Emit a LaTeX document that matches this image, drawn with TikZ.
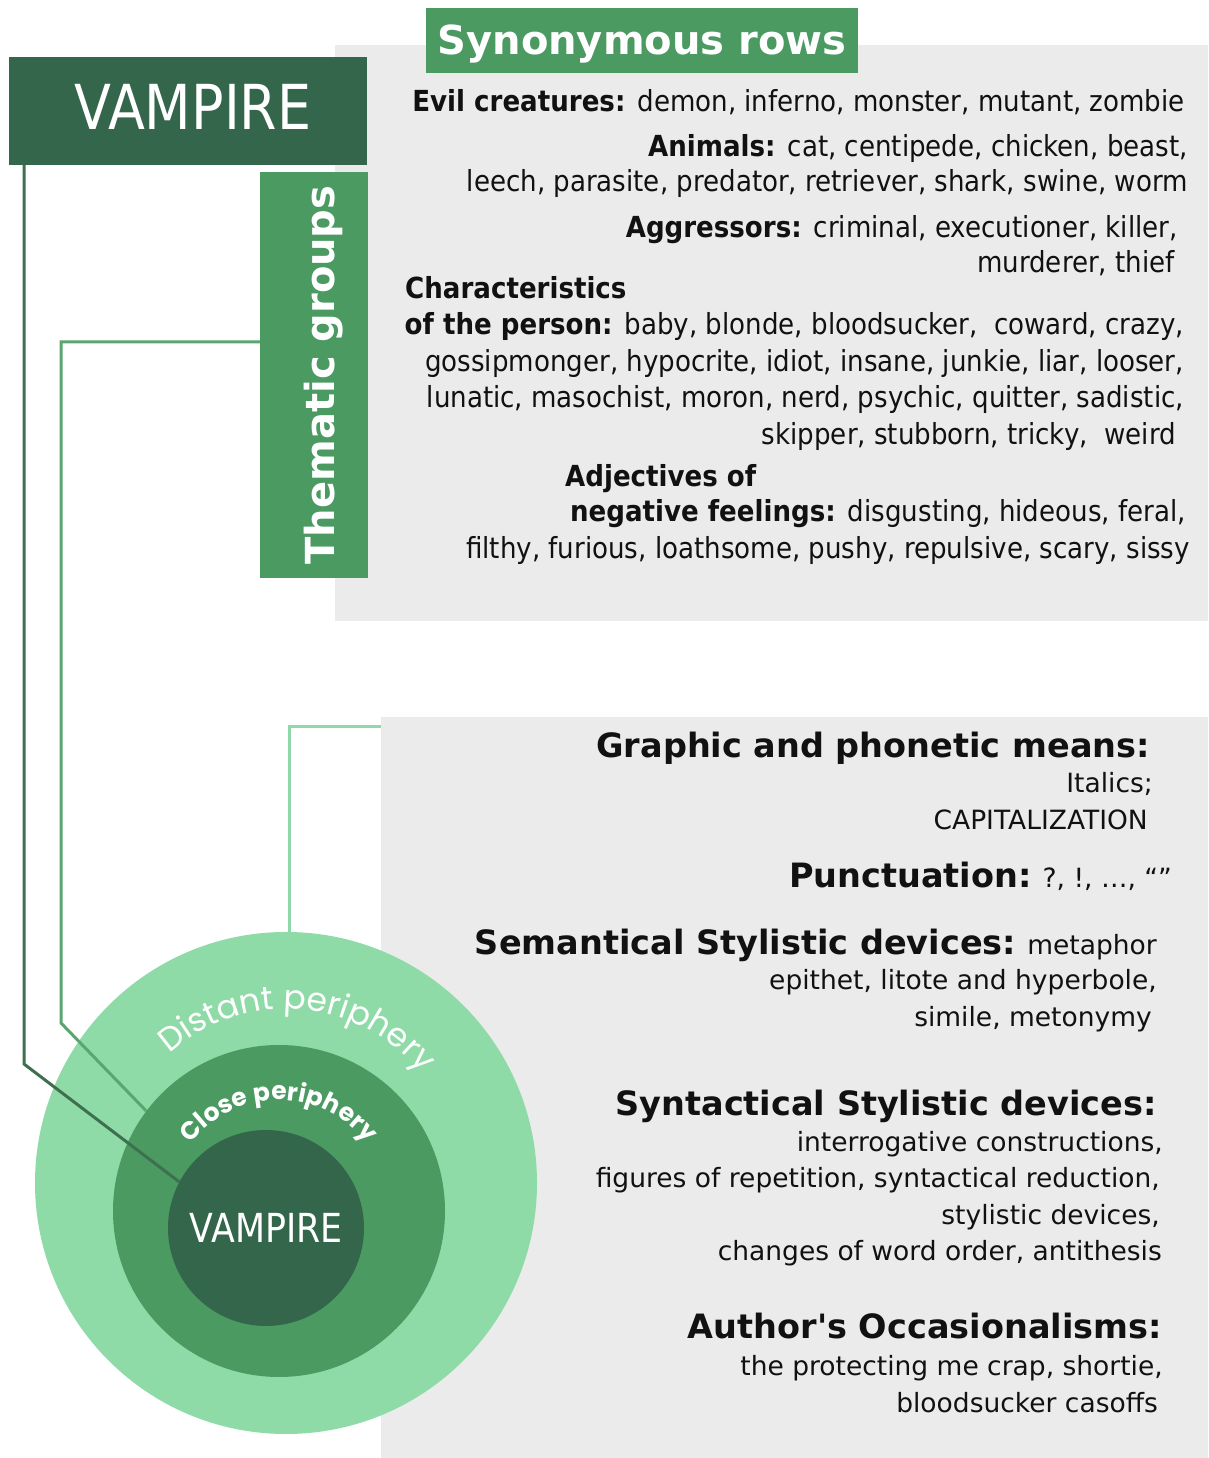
\documentclass[tikz,border=0pt]{standalone}
\usepackage{fontspec}
\setmainfont{DejaVu Sans}[Ligatures=TeXOff]
\newfontfamily\condfont{DejaVu Sans}[FakeStretch=0.9]
\newfontfamily\vampfont{DejaVu Sans}[FakeStretch=0.87]
\newfontfamily\geofont{Poppins}
\usetikzlibrary{decorations.text}
\definecolor{dkgreen}{HTML}{33664A}
\definecolor{mdgreen}{HTML}{4A9A62}
\definecolor{ltgreen}{HTML}{8FDBA8}
\definecolor{panel}{HTML}{EBEBEB}
\definecolor{lineA}{HTML}{3E7050}
\definecolor{lineB}{HTML}{5BA670}
\definecolor{lineC}{HTML}{8FD9A8}
\definecolor{ink}{HTML}{111111}
\newcommand\hd[1]{{\fontsize{33.5}{33.5}\selectfont\bfseries #1}}
\tikzset{
  box/.style={rectangle, draw=none, inner sep=0pt, anchor=south west},
  toptxt/.style={anchor=base east, inner sep=0pt, text=ink, font=\condfont\fontsize{29}{29}\selectfont},
  toptxtl/.style={toptxt, anchor=base west},
  lowtxt/.style={anchor=base east, inner sep=0pt, text=ink, font=\fontsize{26.5}{26.5}\selectfont},
  ring/.style={circle, draw=none, inner sep=0pt},
  conn/.style={line width=3pt, line join=miter}
}
\begin{document}
\begin{tikzpicture}[x=1pt,y=1pt]
\useasboundingbox (0,0) rectangle (1208,1458);
\fill[white] (0,0) rectangle (1208,1458);
% panels
\node[box, fill=panel, minimum width=873, minimum height=576] (tgray) at (335,837) {};
\node[box, fill=panel, minimum width=827, minimum height=741] (lgray) at (381,0) {};
\node[box, fill=mdgreen, minimum width=432, minimum height=65] (syn) at (426,1385) {};
\node[box, fill=dkgreen, minimum width=358, minimum height=108] (vbox) at (9,1293) {};
\node[box, fill=mdgreen, minimum width=108, minimum height=406] (thm) at (260,880) {};
% titles
\node[anchor=base, inner sep=0pt, text=white, font=\fontsize{40}{40}\selectfont\bfseries] (syntxt) at (642,1403) {Synonymous rows};
\node[anchor=base, inner sep=0pt, text=white, font=\vampfont\fontsize{62}{62}\selectfont] (vtxt) at (193,1328) {VAMPIRE};
\node[anchor=base, rotate=90, inner sep=0pt, text=white, font=\fontsize{40}{40}\selectfont\bfseries] (thmtxt) at (334,1083) {Thematic groups};
% circles
\node[ring, fill=ltgreen, minimum size=502] (outer) at (286,275) {};
\node[ring, fill=mdgreen, minimum size=332] (mid) at (279,247) {};
\node[ring, fill=dkgreen, minimum size=196] (inner) at (266,230) {};
\node[anchor=base, inner sep=0pt, text=white, font=\vampfont\fontsize{40}{40}\selectfont] (ctxt) at (266,215) {VAMPIRE};
\path[decorate, decoration={text along path, text={|\geofont\fontsize{33}{33}\selectfont|Distant periphery}, text color=white, text align=center}]
  (286,275) ++(139:174) arc[start angle=139, end angle=32, radius=174];
\path[decorate, decoration={text along path, text={|\geofont\bfseries\fontsize{25}{25}\selectfont|Close periphery}, text color=white, text align=center}]
  (279,247) ++(146:111) arc[start angle=146, end angle=34, radius=111];
% connectors
\coordinate (k1) at (24,394);
\coordinate (k2a) at (61,1116);
\coordinate (k2b) at (61,435);
\coordinate (k3) at (289,731);
\draw[conn, lineA] (vbox.south -| k1) -- (k1) -- (inner.152);
\draw[conn, lineB] (thm.west |- k2a) -- (k2a) -- (k2b) -- (mid.143);
\draw[conn, lineC] (lgray.west |- k3) -- (k3) -- (k3 |- outer.north);
% top panel text
\node[toptxt] (t1) at (1185,1346) {\bfseries Evil creatures: \mdseries demon, inferno, monster, mutant, zombie};
\node[toptxt] (t2) at (1188,1301) {\bfseries Animals: \mdseries cat, centipede, chicken, beast,};
\node[toptxt] (t3) at (1188,1266) {leech, parasite, predator, retriever, shark, swine, worm};
\node[toptxt] (t4) at (1178,1220) {\bfseries Aggressors: \mdseries criminal, executioner, killer,};
\node[toptxt] (t5) at (1175,1185) {murderer, thief};
\node[toptxtl] (t6) at (405,1159) {\bfseries Characteristics};
\node[toptxt] (t7) at (1184,1123) {\bfseries of the person: \mdseries baby, blonde, bloodsucker,\ \ coward, crazy,};
\node[toptxt] (t8) at (1184,1086) {gossipmonger, hypocrite, idiot, insane, junkie, liar, looser,};
\node[toptxt] (t9) at (1184,1050) {lunatic, masochist, moron, nerd, psychic, quitter, sadistic,};
\node[toptxt] (t10) at (1176,1013) {skipper, stubborn, tricky,\ \ weird};
\node[toptxtl] (t11) at (565,971) {\bfseries Adjectives of};
\node[toptxt] (t12) at (1186,936) {\bfseries negative feelings: \mdseries disgusting, hideous, feral,};
\node[toptxt] (t13) at (1190,899) {filthy, furious, loathsome, pushy, repulsive, scary, sissy};
% lower panel text
\node[lowtxt] (g1) at (1150,700) {\hd{Graphic and phonetic means:}};
\node[lowtxt] (g2) at (1153,665) {Italics;};
\node[lowtxt] (g3) at (1148,628) {CAPITALIZATION};
\node[lowtxt] (g4) at (1172,570) {\hd{Punctuation:} ?, !, …, “”};
\node[lowtxt] (g5) at (1157,503) {\hd{Semantical Stylistic devices:} metaphor};
\node[lowtxt] (g6) at (1157,468) {epithet, litote and hyperbole,};
\node[lowtxt] (g7) at (1152,431) {simile, metonymy};
\node[lowtxt] (g8) at (1157,342) {\hd{Syntactical Stylistic devices:}};
\node[lowtxt] (g9) at (1163,306) {interrogative constructions,};
\node[lowtxt] (g10) at (1160,270) {figures of repetition, syntactical reduction,};
\node[lowtxt] (g11) at (1160,233) {stylistic devices,};
\node[lowtxt] (g12) at (1162,197) {changes of word order, antithesis};
\node[lowtxt] (g13) at (1162,119) {\hd{Author's Occasionalisms:}};
\node[lowtxt] (g14) at (1163,82) {the protecting me crap, shortie,};
\node[lowtxt] (g15) at (1158,45) {bloodsucker casoffs};
\end{tikzpicture}
\end{document}
